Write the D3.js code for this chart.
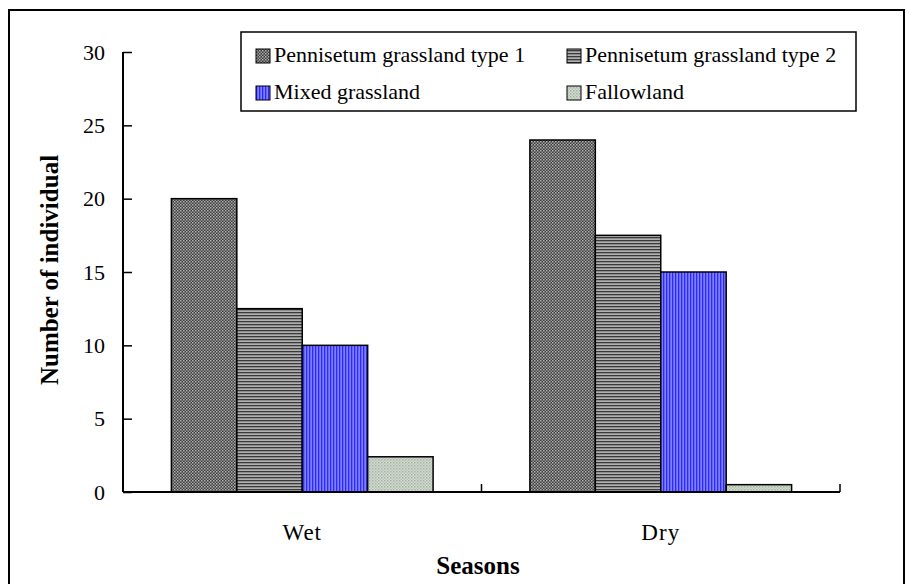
<!DOCTYPE html>
<html>
<head>
<meta charset="utf-8">
<script src="https://cdn.jsdelivr.net/npm/d3@7"></script>
<style>
  body { margin: 0; background: #fff; }
</style>
</head>
<body>
<div id="chart"></div>
<script>
// data
var seasons = ["Wet", "Dry"];
var habitats = ["Pennisetum grassland type 1", "Pennisetum grassland type 2", "Mixed grassland", "Fallowland"];
var type1Values = [20, 24];
var type2Values = [12.5, 17.5];
var mixedValues = [10, 15];
var fallowValues = [2.4, 0.5];
var yTicks = [0, 5, 10, 15, 20, 25, 30];

var width = 909, height = 584;
var margin = {left: 123, right: 69, top: 52, bottom: 92};
var serif = "'Liberation Serif', 'Times New Roman', Times, serif";

var svg = d3.select("#chart").append("svg")
    .attr("width", width)
    .attr("height", height)
    .attr("font-family", serif);

// fill patterns, one per habitat
var defs = svg.append("defs");

var p1 = defs.append("pattern").attr("id", "pat0")
    .attr("patternUnits", "userSpaceOnUse").attr("width", 3).attr("height", 3);
p1.append("rect").attr("width", 3).attr("height", 3).attr("fill", "#3c3c3c");
p1.append("rect").attr("x", 0).attr("y", 0).attr("width", 1.5).attr("height", 1.5).attr("fill", "#b4b4b4");
p1.append("rect").attr("x", 1.5).attr("y", 1.5).attr("width", 1.5).attr("height", 1.5).attr("fill", "#9a9a9a");

var p2 = defs.append("pattern").attr("id", "pat1")
    .attr("patternUnits", "userSpaceOnUse").attr("width", 3).attr("height", 3);
p2.append("rect").attr("width", 3).attr("height", 3).attr("fill", "#b0b0b0");
p2.append("rect").attr("y", 0).attr("width", 3).attr("height", 1.3).attr("fill", "#3a3a3a");

var p3 = defs.append("pattern").attr("id", "pat2")
    .attr("patternUnits", "userSpaceOnUse").attr("width", 3).attr("height", 3);
p3.append("rect").attr("width", 3).attr("height", 3).attr("fill", "#8080ff");
p3.append("rect").attr("x", 0).attr("width", 1.3).attr("height", 3).attr("fill", "#2a2aff");

var p4 = defs.append("pattern").attr("id", "pat3")
    .attr("patternUnits", "userSpaceOnUse").attr("width", 3).attr("height", 3);
p4.append("rect").attr("width", 3).attr("height", 3).attr("fill", "#d4ddd2");
p4.append("rect").attr("x", 0).attr("y", 0).attr("width", 1.5).attr("height", 1.5).attr("fill", "#a3b3a1");
p4.append("rect").attr("x", 1.5).attr("y", 1.5).attr("width", 1.5).attr("height", 1.5).attr("fill", "#b8c4b6");

// outer frame
svg.append("rect")
    .attr("x", 9).attr("y", 10)
    .attr("width", 895).attr("height", 600)
    .attr("fill", "none")
    .attr("stroke", "#000")
    .attr("stroke-width", 2);

var x0 = d3.scaleBand()
    .domain(seasons)
    .range([margin.left, width - margin.right])
    .paddingInner(0.27)
    .paddingOuter(0.135);

var x1 = d3.scaleBand()
    .domain(habitats)
    .range([0, x0.bandwidth()]);

var y = d3.scaleLinear()
    .domain([0, 30])
    .range([height - margin.bottom, margin.top]);

var series = [type1Values, type2Values, mixedValues, fallowValues];
var rows = [];
seasons.forEach(function(s, i) {
    habitats.forEach(function(h, j) {
        rows.push({season: s, habitat: h, idx: j, value: series[j][i]});
    });
});

svg.append("g")
    .attr("class", "bars")
    .selectAll("rect")
    .data(rows)
    .enter().append("rect")
    .attr("x", function(d) { return x0(d.season) + x1(d.habitat); })
    .attr("y", function(d) { return y(d.value); })
    .attr("width", x1.bandwidth())
    .attr("height", function(d) { return y(0) - y(d.value); })
    .attr("fill", function(d) { return "url(#pat" + d.idx + ")"; })
    .attr("stroke", "#000")
    .attr("stroke-width", 1.5);

// y axis, ticks pointing inwards
var yAxis = svg.append("g")
    .attr("transform", "translate(" + margin.left + ",0)")
    .call(d3.axisRight(y).tickValues(yTicks).tickSize(9).tickFormat(""));
yAxis.select(".domain").remove();
yAxis.append("line")
    .attr("x1", 0).attr("x2", 0)
    .attr("y1", y(30)).attr("y2", y(0))
    .attr("stroke", "#000").attr("stroke-width", 2);
yAxis.selectAll(".tick line").attr("stroke", "#000").attr("stroke-width", 1.5);

svg.append("g")
    .selectAll("text")
    .data(yTicks)
    .enter().append("text")
    .attr("x", margin.left - 18)
    .attr("y", function(d) { return y(d); })
    .attr("dy", "0.35em")
    .attr("text-anchor", "end")
    .attr("font-size", 22)
    .text(function(d) { return d; });

// x axis with category separators
var xRange = x0.range();
svg.append("line")
    .attr("x1", xRange[0]).attr("x2", xRange[1])
    .attr("y1", y(0)).attr("y2", y(0))
    .attr("stroke", "#000").attr("stroke-width", 2);

var sepX = [xRange[0] + (xRange[1] - xRange[0]) / 2, xRange[1]];
svg.append("g")
    .selectAll("line")
    .data(sepX)
    .enter().append("line")
    .attr("x1", function(d) { return d; })
    .attr("x2", function(d) { return d; })
    .attr("y1", y(0))
    .attr("y2", y(0) - 8)
    .attr("stroke", "#000").attr("stroke-width", 1.5);

svg.append("g")
    .selectAll("text")
    .data(seasons)
    .enter().append("text")
    .attr("x", function(d) { return x0(d) + x0.bandwidth() / 2; })
    .attr("y", 540)
    .attr("text-anchor", "middle")
    .attr("font-size", 23)
    .attr("letter-spacing", 1)
    .text(function(d) { return d; });

// axis titles
svg.append("text")
    .attr("x", 478)
    .attr("y", 574)
    .attr("text-anchor", "middle")
    .attr("font-size", 25)
    .attr("font-weight", "bold")
    .text("Seasons");

svg.append("text")
    .attr("transform", "translate(58,270)rotate(-90)")
    .attr("text-anchor", "middle")
    .attr("font-size", 25)
    .attr("font-weight", "bold")
    .text("Number of individual");

// legend
var legend = svg.append("g").attr("class", "legend");
legend.append("rect")
    .attr("x", 241).attr("y", 32)
    .attr("width", 615).attr("height", 79)
    .attr("fill", "#fff")
    .attr("stroke", "#000")
    .attr("stroke-width", 1.5);

var legX = [256, 567];
var legY = [62, 99];
var item = legend.selectAll(".item")
    .data(habitats)
    .enter().append("g")
    .attr("class", "item")
    .attr("transform", function(d, i) {
        return "translate(" + legX[i % 2] + "," + legY[Math.floor(i / 2)] + ")";
    });

item.append("rect")
    .attr("x", 0).attr("y", -13)
    .attr("width", 14).attr("height", 14)
    .attr("fill", function(d, i) { return "url(#pat" + i + ")"; })
    .attr("stroke", "#000")
    .attr("stroke-width", 1);

item.append("text")
    .attr("x", 18)
    .attr("y", 0)
    .attr("font-size", 22)
    .text(function(d) { return d; });
</script>
</body>
</html>
